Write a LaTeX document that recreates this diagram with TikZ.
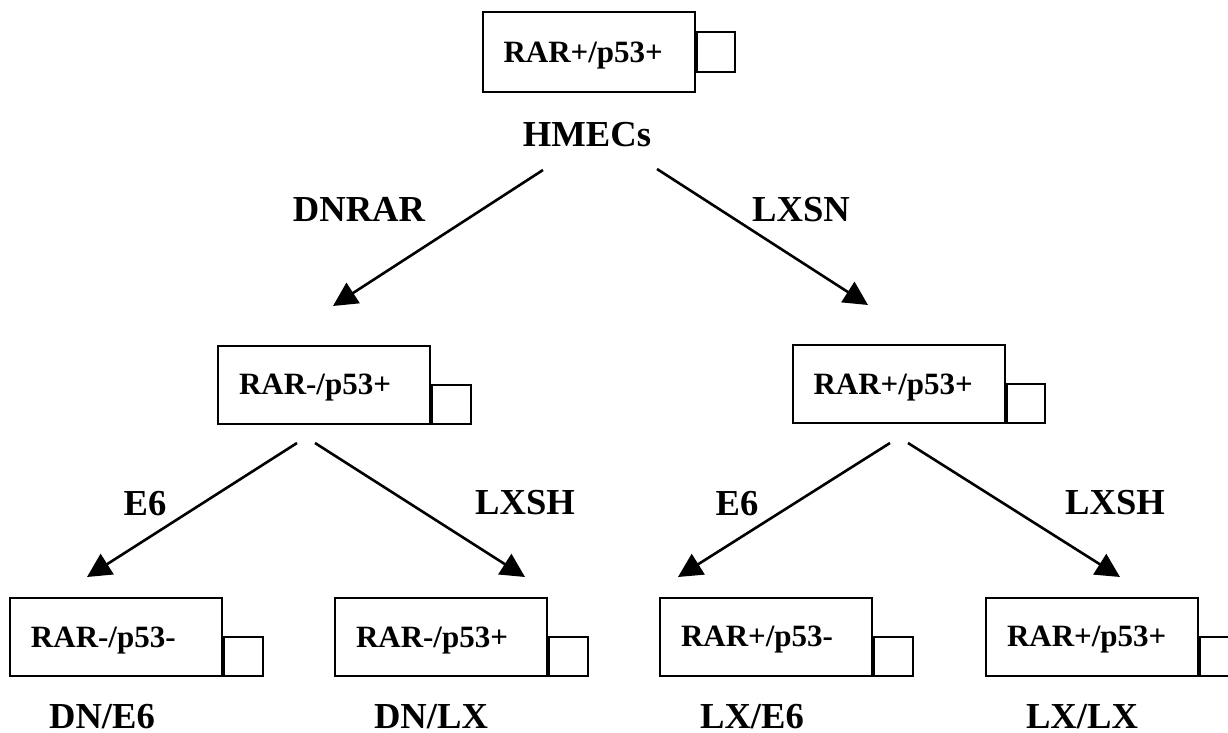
\documentclass[tikz,border=0pt]{standalone}
\usepackage{fontspec}
\setmainfont{Liberation Serif}
\usetikzlibrary{arrows.meta}

\begin{document}
\begin{tikzpicture}[x=0.5pt,y=-0.5pt,
  cell/.style={draw, line width=1pt, rectangle, minimum width=106pt, minimum height=39pt, inner xsep=10.5pt, inner ysep=0pt, text width=85pt, text depth=0pt, align=left, font=\fontsize{15.5}{18}\selectfont\bfseries},
  flask/.style={draw, line width=1pt, rectangle, minimum width=19.25pt, minimum height=19.5pt, inner sep=0pt},
  lbl/.style={anchor=base, inner sep=0pt, font=\fontsize{18.3}{22}\selectfont\bfseries},
  arr/.style={-{Triangle[length=12pt,width=12pt]}, line width=1.3pt}]
\useasboundingbox (0,0) rectangle (1228,733);
\clip (0,0) rectangle (1228,733);

\node[cell, minimum height=40pt] (root) at (588.5,52) {RAR+/p53+};
\node[flask, minimum height=20pt, anchor=west] (rootsq) at (root.east) {};
\node[lbl] (hmecs) at (587,147) {HMECs};

\node[cell] (dn) at (324,384.5) {RAR-/p53+};
\node[flask, anchor=south west] (dnsq) at (dn.south east) {};
\node[cell] (lx) at (898.5,384) {RAR+/p53+};
\node[flask, anchor=south west] (lxsq) at (lx.south east) {};

\node[cell] (dne6) at (116,637) {RAR-/p53-};
\node[flask, anchor=south west] (dne6sq) at (dne6.south east) {};
\node[cell] (dnlx) at (441,637) {RAR-/p53+};
\node[flask, anchor=south west] (dnlxsq) at (dnlx.south east) {};
\node[cell] (lxe6) at (766,636.5) {RAR+/p53-};
\node[flask, anchor=south west] (lxe6sq) at (lxe6.south east) {};
\node[cell] (lxlx) at (1092,636.5) {RAR+/p53+};
\node[flask, anchor=south west] (lxlxsq) at (lxlx.south east) {};

\node[lbl] (dnrar) at (359,222) {DNRAR};
\node[lbl] (lxsn) at (801,222) {LXSN};
\node[lbl] (dne6lbl) at (145,515) {E6};
\node[lbl] (dnlxlbl) at (525,514) {LXSH};
\node[lbl] (lxe6lbl) at (737,515) {E6};
\node[lbl] (lxlxlbl) at (1115,514) {LXSH};

\node[lbl] (dne6name) at (102,728) {DN/E6};
\node[lbl] (dnlxname) at (431,728) {DN/LX};
\node[lbl] (lxe6name) at (752,728) {LX/E6};
\node[lbl] (lxlxname) at (1082,728) {LX/LX};

% arrow ends
\coordinate (rootL) at (543,170);
\coordinate (rootR) at (657,169);
\coordinate (dnin) at (333,306);
\coordinate (lxin) at (868,305);
\coordinate (dnL) at (297,443);
\coordinate (dnR) at (315,443);
\coordinate (lxL) at (890,443);
\coordinate (lxR) at (908,443);
\coordinate (dne6in) at (87,577);
\coordinate (dnlxin) at (525,577);
\coordinate (lxe6in) at (678,577);
\coordinate (lxlxin) at (1120,577);

\draw[arr] (rootL) -- (dnin);
\draw[arr] (rootR) -- (lxin);
\draw[arr] (dnL) -- (dne6in);
\draw[arr] (dnR) -- (dnlxin);
\draw[arr] (lxL) -- (lxe6in);
\draw[arr] (lxR) -- (lxlxin);
\end{tikzpicture}
\end{document}
